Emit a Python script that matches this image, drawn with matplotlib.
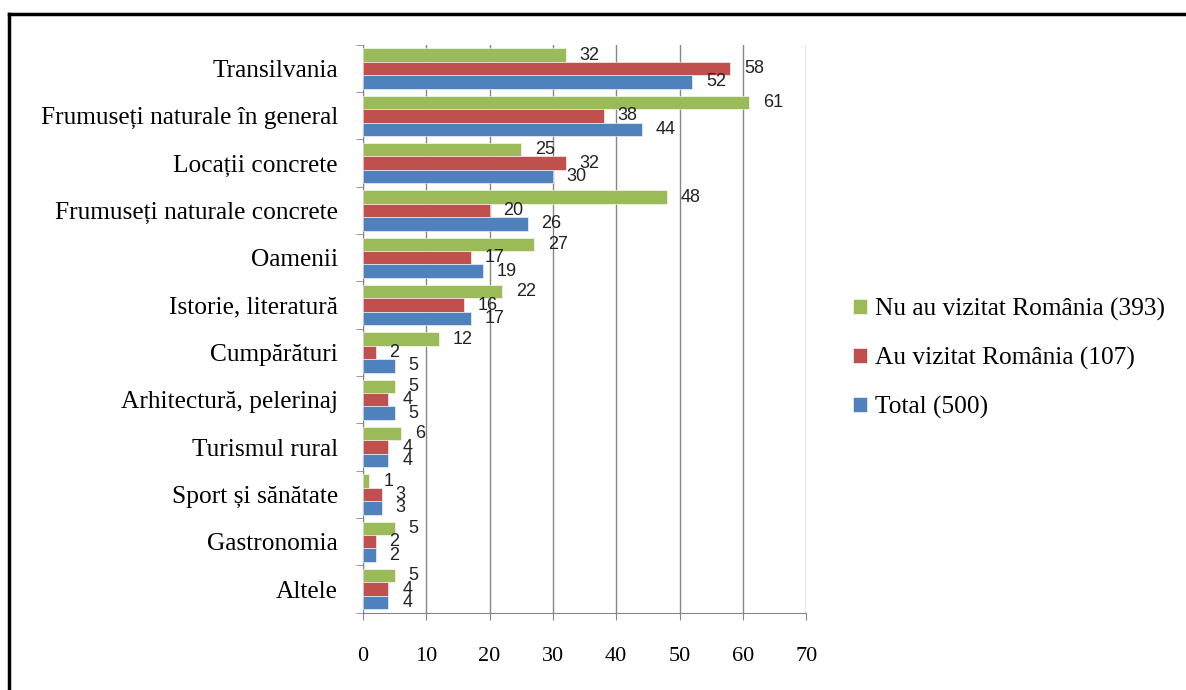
import matplotlib.pyplot as plt
import numpy as np
from matplotlib.lines import Line2D

categories = ['Transilvania', 'Frumuseți naturale în general', 'Locații concrete',
              'Frumuseți naturale concrete', 'Oamenii', 'Istorie, literatură',
              'Cumpărături', 'Arhitectură, pelerinaj', 'Turismul rural',
              'Sport și sănătate', 'Gastronomia', 'Altele']
nu_au_vizitat = [32, 61, 25, 48, 27, 22, 12, 5, 6, 1, 5, 5]
au_vizitat = [58, 38, 32, 20, 17, 16, 2, 4, 4, 3, 2, 4]
total = [52, 44, 30, 26, 19, 17, 5, 5, 4, 3, 2, 4]
series_labels = ['Nu au vizitat România (393)', 'Au vizitat România (107)', 'Total (500)']
colors = ['#9BBB59', '#C0504D', '#4F81BD']
xticks = [0, 10, 20, 30, 40, 50, 60, 70]

serif = 'Liberation Serif'

fig = plt.figure(figsize=(11.86, 6.90), dpi=100)
ax = fig.add_axes([0.306, 0.112, 0.374, 0.823])

y = np.arange(len(categories))
h = 0.283
series = [nu_au_vizitat, au_vizitat, total]
for k, (vals, lab, col) in enumerate(zip(series, series_labels, colors)):
    bars = ax.barh(y + (k - 1) * h, vals, h, color=col, label=lab,
                   edgecolor='white', linewidth=0.4, zorder=3)
    for b, v in zip(bars, vals):
        ax.annotate(str(v), (b.get_width(), b.get_y() + b.get_height() / 2),
                    xytext=(10, 0), textcoords='offset points',
                    ha='left', va='center', fontsize=13,
                    family='Liberation Sans', color='#222222', zorder=4)

ax.set_xlim(0, 70.05)
ax.set_ylim(len(categories) - 0.5, -0.5)
ax.set_xticks(xticks)
ax.set_xticklabels([str(t) for t in xticks], family=serif, fontsize=16)
ax.set_yticks(y)
ax.set_yticklabels(categories, family=serif, fontsize=18.3)
ax.set_yticks(np.arange(len(categories) + 1) - 0.5, minor=True)

ax.tick_params(axis='y', which='major', length=0, pad=18)
ax.tick_params(axis='y', which='minor', length=5, color='#868686', direction='out')
ax.tick_params(axis='x', length=5, color='#868686', pad=20)

ax.grid(axis='x', color='#868686', linewidth=1, zorder=0)
for s in ['top', 'right']:
    ax.spines[s].set_visible(False)
for s in ['left', 'bottom']:
    ax.spines[s].set_color('#868686')

ax.legend(loc='center left', bbox_to_anchor=(0.700, 0.481), bbox_transform=fig.transFigure,
          frameon=False, prop={'family': serif, 'size': 18.3},
          handlelength=0.55, handleheight=0.55, handletextpad=0.3, labelspacing=1.02)

# frame lines (top and left)
fig.add_artist(Line2D([0.0075, 1.0], [1 - 14 / 690, 1 - 14 / 690], color='black',
                      lw=2.5, transform=fig.transFigure))
fig.add_artist(Line2D([0.0075, 0.0075], [0.0, 1 - 14 / 690], color='black',
                      lw=2.5, transform=fig.transFigure))

plt.savefig('out.png', dpi=100)
